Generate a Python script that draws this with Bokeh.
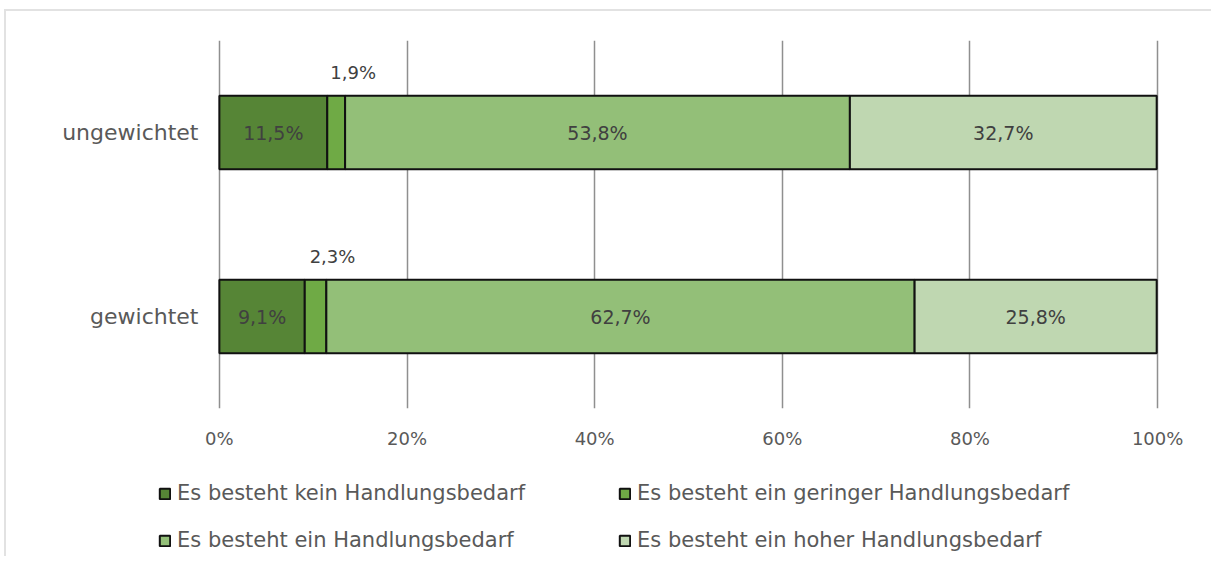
import numpy as np
from bokeh.plotting import figure
from bokeh.models import ColumnDataSource, FixedTicker, Legend, LegendItem, LabelSet, Range1d
from bokeh.layouts import column
from bokeh.embed import file_html
from bokeh.resources import INLINE
from bokeh.core.properties import value

categories = ["gewichtet", "ungewichtet"]
series_names = [
    "Es besteht kein Handlungsbedarf",
    "Es besteht ein geringer Handlungsbedarf",
    "Es besteht ein Handlungsbedarf",
    "Es besteht ein hoher Handlungsbedarf",
]
ungewichtet = [11.5, 1.9, 53.8, 32.7]
gewichtet = [9.1, 2.3, 62.7, 25.8]
labels_ungewichtet = ["11,5%", "1,9%", "53,8%", "32,7%"]
labels_gewichtet = ["9,1%", "2,3%", "62,7%", "25,8%"]
colors = ["#568536", "#6FAA45", "#93BF78", "#BFD7B1"]
x_ticks = [0, 20, 40, 60, 80, 100]

FONT = "DejaVu Sans"
TXT = "#595959"

p = figure(width=1205, height=450, y_range=categories, x_range=(-0.2, 100.2),
           output_backend="svg", toolbar_location=None,
           min_border_left=211, min_border_right=52, min_border_top=29, min_border_bottom=53)
p.outline_line_color = None
p.frame_align = False

values = {"ungewichtet": ungewichtet, "gewichtet": gewichtet}
labs = {"ungewichtet": labels_ungewichtet, "gewichtet": labels_gewichtet}

for i, name in enumerate(series_names):
    ys, lefts, rights = [], [], []
    for cat in categories:
        vals = values[cat]
        left = sum(vals[:i])
        ys.append(cat)
        lefts.append(left)
        rights.append(left + vals[i])
    src = ColumnDataSource(dict(y=ys, left=lefts, right=rights))
    p.hbar(y="y", left="left", right="right", height=0.4, source=src,
           fill_color=colors[i], line_color="#111111", line_width=2)

# labels
in_x, in_y, in_t = [], [], []
out_x, out_y, out_t = [], [], []
for cat in categories:
    vals = values[cat]
    for i, v in enumerate(vals):
        mid = sum(vals[:i]) + v / 2
        if v < 5:
            out_x.append(mid); out_y.append(cat); out_t.append(labs[cat][i])
        else:
            in_x.append(mid); in_y.append(cat); in_t.append(labs[cat][i])

src_in = ColumnDataSource(dict(x=in_x, y=in_y, t=in_t))
src_out = ColumnDataSource(dict(x=out_x, y=out_y, t=out_t))
p.add_layout(LabelSet(x="x", y="y", text="t", source=src_in, text_align="center",
                      text_baseline="middle", text_font=value(FONT), text_font_size="19px",
                      text_color="#404040"))
p.add_layout(LabelSet(x="x", y="y", text="t", source=src_out, text_align="center",
                      text_baseline="middle", text_font=value(FONT), text_font_size="18px",
                      text_color="#404040", x_offset=17, y_offset=60))

# axes
p.xaxis.ticker = FixedTicker(ticks=x_ticks)
p.xaxis.major_label_overrides = {t: f"{t}%" for t in x_ticks}
p.xaxis.axis_line_color = None
p.xaxis.major_tick_line_color = None
p.xaxis.minor_tick_line_color = None
p.xaxis.major_label_standoff = 13
p.xaxis.major_label_text_font = FONT
p.xaxis.major_label_text_font_size = "18px"
p.xaxis.major_label_text_color = TXT

p.yaxis.axis_line_color = None
p.yaxis.major_tick_line_color = None
p.yaxis.major_label_standoff = 13
p.yaxis.major_label_text_font = FONT
p.yaxis.major_label_text_font_size = "22px"
p.yaxis.major_label_text_color = TXT

p.ygrid.grid_line_color = None
p.xgrid.grid_line_color = "#8f8f8f"
p.xgrid.grid_line_width = 1.5

# legend figure below
lg = figure(width=1205, height=95, x_range=Range1d(0, 1), y_range=Range1d(0, 1),
            output_backend="svg", toolbar_location=None,
            min_border_left=0, min_border_right=0, min_border_top=0, min_border_bottom=0)
lg.axis.visible = False
lg.grid.visible = False
lg.outline_line_color = None
lg.frame_align = False

positions = [(152, 50.5), (612, 50.5), (152, 3.5), (612, 3.5)]
for i, name in enumerate(series_names):
    # proxy bar with undefined coordinates: only its legend glyph is drawn
    proxy = ColumnDataSource(dict(y=np.array([np.nan]), left=np.array([np.nan]),
                                  right=np.array([np.nan])))
    r = lg.hbar(y="y", left="left", right="right", height=0.4, source=proxy,
                fill_color=colors[i], line_color="#111111", line_width=2)
    leg = Legend(items=[LegendItem(label=name, renderers=[r])], location=positions[i],
                 background_fill_alpha=0, border_line_color=None,
                 label_text_font=FONT, label_text_font_size="21px", label_text_color=TXT,
                 glyph_width=13, glyph_height=13, label_standoff=6, label_height=25,
                 padding=0, margin=0, spacing=0)
    lg.add_layout(leg, "center")

layout = column(p, lg, spacing=0)
layout.styles = {"border-top": "2px solid #e2e2e2", "border-left": "2px solid #e2e2e2",
                 "margin-left": "4px", "margin-top": "9px"}

open("out.html", "w").write(file_html(layout, INLINE))
